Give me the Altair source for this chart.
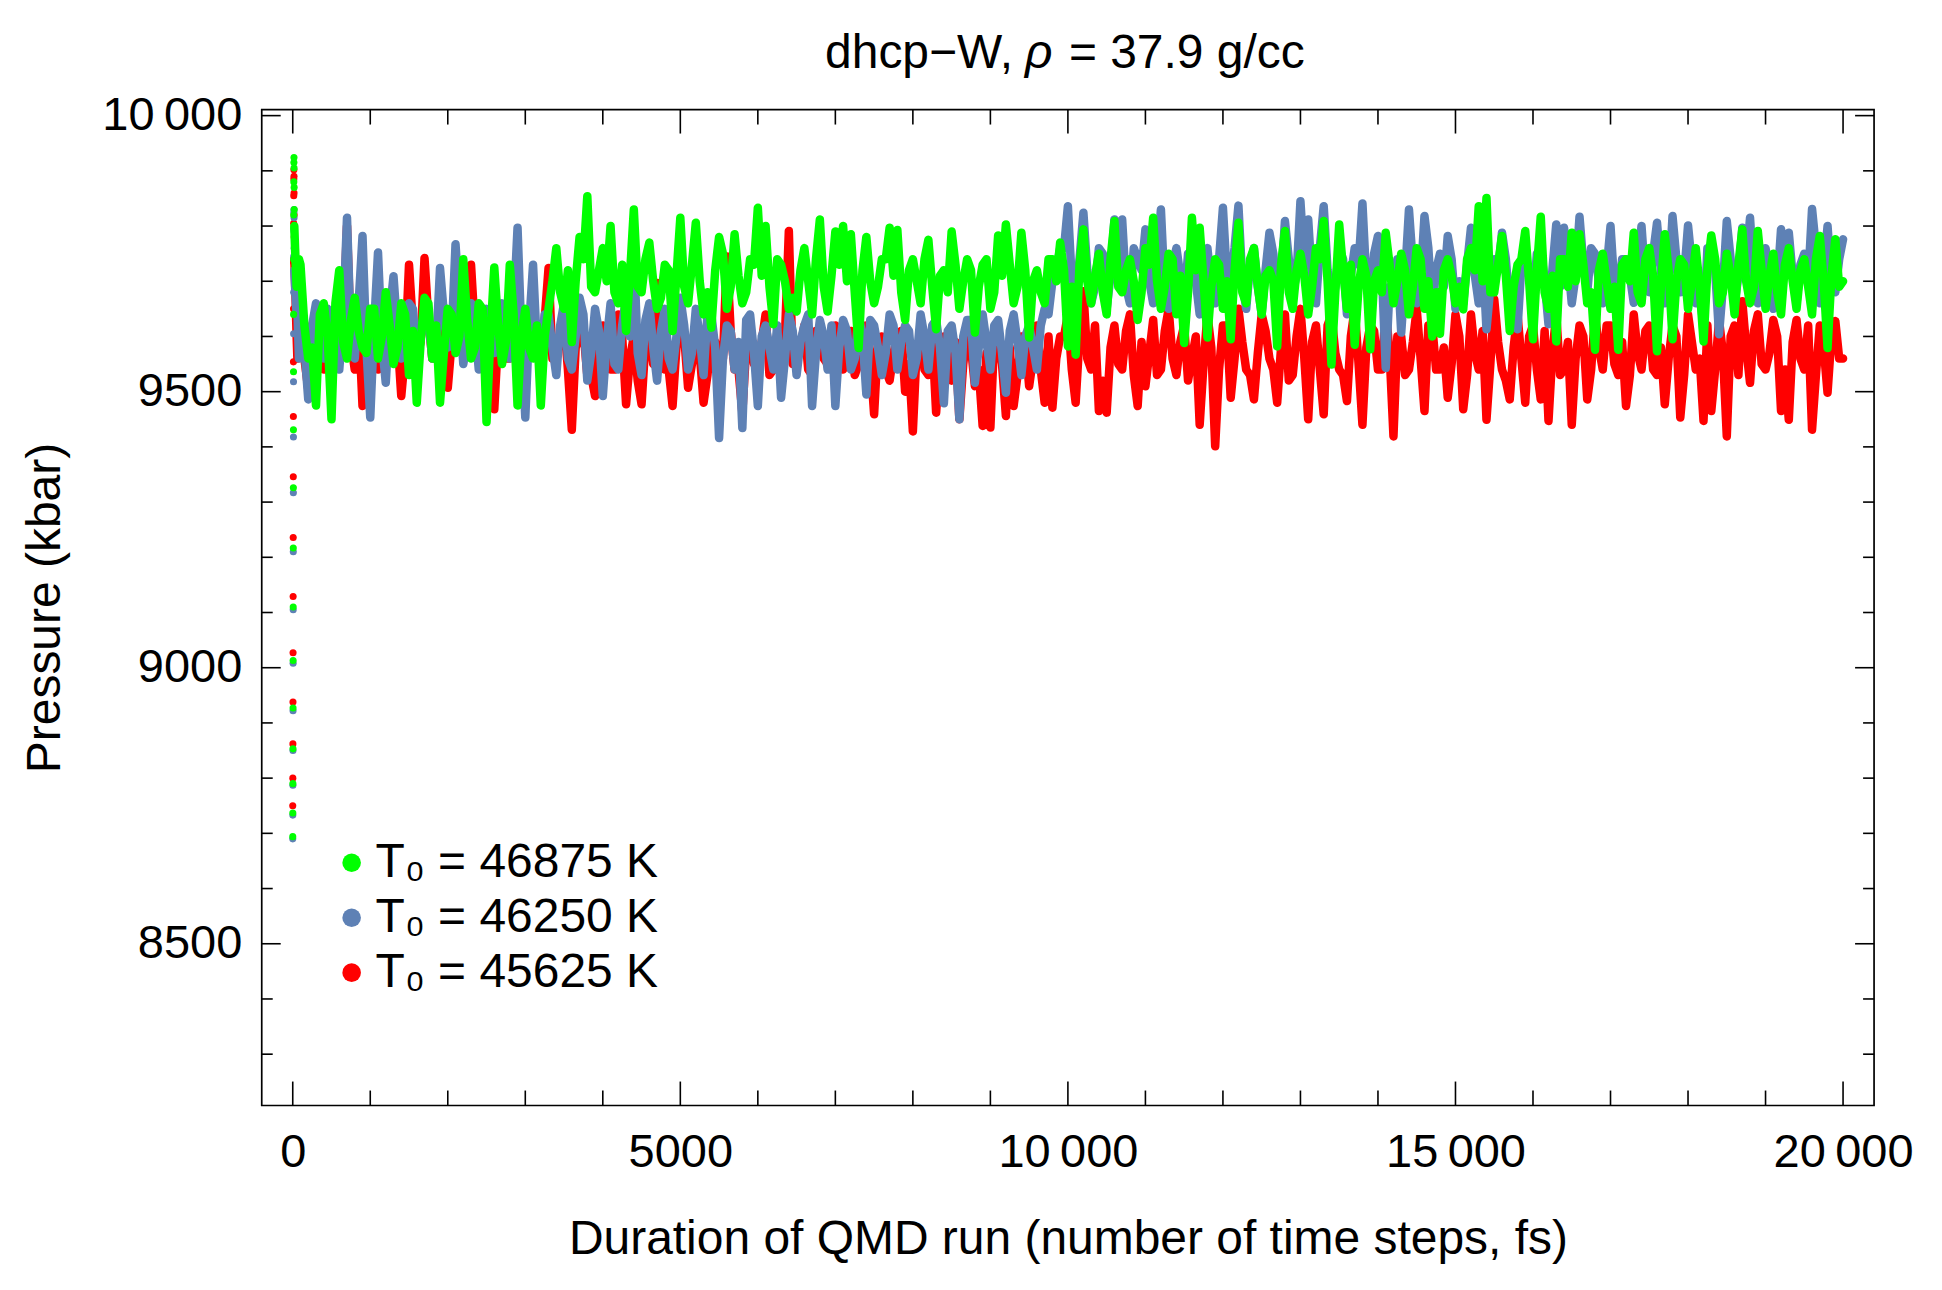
import altair as alt
import pandas as pd

FONT = "Liberation Sans"
W, H = 1614, 997
X_DOMAIN = [-400, 20400]
Y_DOMAIN = [8207, 10011]

LABELS = ["T\u2080 = 46875 K", "T\u2080 = 46250 K", "T\u2080 = 45625 K"]
COLORS = ["#00FF00", "#5E81B5", "#FF0000"]

# first time steps (fs 0..19): the runs start low and climb steeply
start_times = list(range(20))
green_start = [8694, 8737, 8790, 8853, 8927, 9013, 9110, 9217, 9326, 9431,
               9536, 9640, 9740, 9820, 9880, 9915, 9924, 9905, 9870, 9830]
blue_start = [8690, 8733, 8787, 8850, 8922, 9008, 9105, 9210, 9317, 9418,
              9518, 9605, 9680, 9745, 9795, 9825, 9830, 9815, 9790, 9760]
red_start = [8750, 8800, 8862, 8938, 9027, 9129, 9236, 9346, 9455, 9554,
             9650, 9735, 9805, 9855, 9885, 9902, 9890, 9860, 9820, 9780]

early_times = [20, 30, 60, 80]
green_early = [9800, 9760, 9700, 9740]
blue_early = [9720, 9690, 9650, 9560]
red_early = [9740, 9700, 9560, 9600]

# pressure read every 100 fs (100 .. 20000 fs)
main_times = list(range(100, 20001, 100))
green_main = [
    9730, 9560, 9475, 9660, 9450, 9720, 9560, 9670, 9580, 9650,
    9560, 9680, 9550, 9660, 9530, 9480, 9670, 9560, 9480, 9650,
    9570, 9740, 9560, 9660, 9445, 9725, 9550, 9730, 9475, 9650,
    9560, 9475, 9650, 9760, 9650, 9590, 9780, 9854, 9680, 9760,
    9800, 9660, 9610, 9830, 9680, 9770, 9650, 9730, 9610, 9815,
    9660, 9806, 9640, 9616, 9780, 9650, 9785, 9660, 9740, 9833,
    9800, 9622, 9730, 9650, 9645, 9760, 9640, 9812, 9645, 9790,
    9800, 9785, 9579, 9780, 9660, 9740, 9797, 9793, 9630, 9740,
    9660, 9775, 9613, 9720, 9790, 9650, 9740, 9607, 9730, 9650,
    9783, 9803, 9660, 9788, 9598, 9720, 9660, 9740, 9770, 9582,
    9567, 9794, 9660, 9750, 9640, 9809, 9680, 9740, 9630, 9760,
    9815, 9650, 9750, 9640, 9588, 9815, 9797, 9598, 9740, 9650,
    9595, 9806, 9660, 9760, 9640, 9720, 9582, 9791, 9650, 9750,
    9640, 9760, 9809, 9549, 9803, 9650, 9585, 9740, 9577, 9720,
    9788, 9660, 9750, 9640, 9760, 9650, 9600, 9605, 9740, 9660,
    9649, 9760, 9836, 9851, 9680, 9782, 9610, 9730, 9791, 9595,
    9817, 9650, 9591, 9740, 9788, 9785, 9660, 9576, 9750, 9650,
    9576, 9740, 9788, 9660, 9760, 9573, 9785, 9595, 9740, 9650,
    9760, 9591, 9783, 9660, 9750, 9640, 9794, 9660, 9791, 9650,
    9750, 9640, 9760, 9650, 9740, 9640, 9782, 9579, 9776, 9700,
]
blue_main = [
    9650, 9486, 9660, 9560, 9640, 9540, 9815, 9560, 9782, 9453,
    9752, 9516, 9709, 9560, 9660, 9550, 9650, 9560, 9724, 9580,
    9767, 9550, 9660, 9540, 9650, 9570, 9660, 9560, 9797, 9453,
    9730, 9560, 9640, 9530, 9660, 9540, 9670, 9520, 9650, 9492,
    9660, 9540, 9670, 9758, 9530, 9660, 9520, 9650, 9540, 9670,
    9540, 9650, 9530, 9640, 9416, 9620, 9540, 9434, 9640, 9474,
    9620, 9540, 9489, 9640, 9530, 9620, 9474, 9630, 9540, 9474,
    9630, 9540, 9640, 9495, 9620, 9530, 9640, 9540, 9620, 9530,
    9640, 9540, 9630, 9479, 9620, 9450, 9630, 9516, 9640, 9540,
    9630, 9498, 9640, 9530, 9620, 9540, 9650, 9700, 9760, 9836,
    9650, 9824, 9660, 9760, 9650, 9812, 9812, 9660, 9740, 9794,
    9660, 9830, 9650, 9760, 9660, 9750, 9640, 9760, 9660, 9833,
    9700, 9837, 9650, 9760, 9640, 9788, 9660, 9809, 9680, 9845,
    9812, 9660, 9836, 9650, 9760, 9640, 9760, 9841, 9660, 9782,
    9543, 9680, 9607, 9830, 9660, 9818, 9650, 9750, 9782, 9650,
    9660, 9797, 9660, 9613, 9740, 9788, 9650, 9613, 9740, 9660,
    9760, 9622, 9803, 9797, 9660, 9817, 9680, 9750, 9660, 9800,
    9680, 9740, 9661, 9800, 9680, 9806, 9660, 9818, 9680, 9801,
    9660, 9607, 9750, 9604, 9809, 9660, 9797, 9815, 9660, 9760,
    9650, 9794, 9788, 9660, 9750, 9831, 9660, 9800, 9680, 9776,
]
red_main = [
    9620, 9505, 9640, 9540, 9620, 9560, 9800, 9540, 9474, 9640,
    9540, 9620, 9560, 9492, 9730, 9560, 9742, 9560, 9620, 9507,
    9640, 9730, 9730, 9620, 9560, 9468, 9640, 9560, 9620, 9540,
    9620, 9560, 9724, 9560, 9630, 9431, 9600, 9530, 9492, 9620,
    9540, 9640, 9477, 9600, 9477, 9620, 9697, 9540, 9474, 9620,
    9507, 9620, 9480, 9600, 9560, 9745, 9540, 9462, 9620, 9560,
    9640, 9540, 9610, 9791, 9560, 9620, 9530, 9610, 9550, 9620,
    9540, 9610, 9550, 9620, 9459, 9600, 9520, 9600, 9500, 9428,
    9600, 9530, 9462, 9600, 9520, 9450, 9610, 9510, 9438, 9435,
    9600, 9456, 9474, 9600, 9510, 9620, 9480, 9471, 9600, 9640,
    9480, 9682, 9540, 9465, 9462, 9620, 9540, 9640, 9474, 9510,
    9630, 9540, 9650, 9530, 9620, 9560, 9440, 9640, 9401, 9620,
    9489, 9650, 9540, 9486, 9640, 9560, 9480, 9640, 9530, 9650,
    9450, 9620, 9459, 9640, 9540, 9483, 9650, 9440, 9620, 9540,
    9650, 9419, 9600, 9540, 9650, 9465, 9620, 9540, 9489, 9640,
    9468, 9640, 9540, 9449, 9667, 9540, 9486, 9640, 9480, 9620,
    9486, 9447, 9640, 9540, 9440, 9620, 9486, 9640, 9540, 9620,
    9530, 9474, 9640, 9540, 9620, 9530, 9477, 9620, 9453, 9640,
    9540, 9447, 9465, 9630, 9419, 9620, 9664, 9516, 9640, 9540,
    9630, 9465, 9449, 9630, 9540, 9431, 9620, 9498, 9628, 9560,
]

# in-between readings (50, 150, ... 19950 fs) inside the dense core of each band
mid_times = list(range(50, 20000, 100))
green_mid = [
    9690, 9620, 9580, 9640, 9600, 9660, 9590, 9630, 9610, 9570,
    9650, 9600, 9620, 9580, 9640, 9610, 9590, 9660, 9620, 9570,
    9640, 9600, 9630, 9580, 9650, 9600, 9620, 9590, 9640, 9600,
    9580, 9620, 9600, 9700, 9680, 9720, 9700, 9740, 9690, 9720,
    9700, 9680, 9730, 9710, 9690, 9740, 9700, 9670, 9720, 9710,
    9690, 9730, 9700, 9680, 9720, 9750, 9690, 9710, 9680, 9730,
    9710, 9690, 9740, 9700, 9670, 9720, 9700, 9740, 9690, 9710,
    9730, 9700, 9680, 9720, 9700, 9690, 9740, 9710, 9680, 9720,
    9700, 9740, 9690, 9710, 9680, 9730, 9700, 9720, 9690, 9740,
    9680, 9710, 9730, 9690, 9720, 9700, 9680, 9740, 9700, 9720,
    9690, 9730, 9700, 9710, 9680, 9740, 9690, 9720, 9700, 9680,
    9730, 9700, 9690, 9740, 9710, 9680, 9720, 9700, 9690, 9730,
    9700, 9720, 9680, 9740, 9690, 9710, 9700, 9730, 9680, 9720,
    9710, 9690, 9740, 9700, 9680, 9720, 9730, 9690, 9710, 9700,
    9680, 9730, 9700, 9720, 9690, 9740, 9700, 9680, 9720, 9710,
    9690, 9740, 9720, 9700, 9680, 9730, 9710, 9690, 9740, 9700,
    9720, 9680, 9710, 9740, 9690, 9700, 9730, 9680, 9720, 9700,
    9690, 9730, 9700, 9680, 9740, 9710, 9690, 9720, 9700, 9730,
    9700, 9690, 9720, 9740, 9680, 9710, 9730, 9700, 9690, 9720,
    9710, 9680, 9730, 9700, 9720, 9690, 9740, 9700, 9710, 9690,
]
blue_mid = [
    9640, 9580, 9620, 9600, 9650, 9570, 9630, 9600, 9660, 9580,
    9620, 9590, 9640, 9610, 9570, 9650, 9600, 9630, 9580, 9640,
    9600, 9660, 9590, 9620, 9570, 9640, 9610, 9590, 9650, 9600,
    9620, 9580, 9640, 9580, 9620, 9560, 9600, 9640, 9570, 9610,
    9590, 9550, 9620, 9600, 9570, 9630, 9580, 9610, 9560, 9600,
    9620, 9570, 9600, 9640, 9580, 9560, 9610, 9590, 9630, 9570,
    9600, 9580, 9620, 9560, 9610, 9590, 9640, 9570, 9600, 9620,
    9580, 9610, 9560, 9600, 9630, 9580, 9570, 9620, 9590, 9610,
    9560, 9600, 9620, 9580, 9610, 9570, 9600, 9630, 9580, 9590,
    9620, 9570, 9610, 9590, 9600, 9580, 9620, 9640, 9720, 9760,
    9700, 9740, 9720, 9690, 9750, 9710, 9730, 9690, 9760, 9720,
    9700, 9740, 9680, 9730, 9710, 9750, 9700, 9720, 9690, 9740,
    9710, 9760, 9700, 9730, 9690, 9720, 9750, 9700, 9740, 9710,
    9730, 9700, 9760, 9720, 9690, 9740, 9710, 9730, 9700, 9750,
    9720, 9690, 9740, 9710, 9730, 9700, 9760, 9720, 9690, 9740,
    9700, 9730, 9710, 9750, 9690, 9720, 9740, 9700, 9730, 9710,
    9750, 9700, 9720, 9690, 9740, 9710, 9730, 9760, 9700, 9720,
    9690, 9740, 9710, 9730, 9700, 9750, 9720, 9690, 9740, 9710,
    9730, 9700, 9760, 9720, 9690, 9740, 9710, 9730, 9700, 9750,
    9720, 9690, 9740, 9710, 9730, 9700, 9760, 9720, 9700, 9740,
]
red_mid = [
    9600, 9560, 9620, 9580, 9640, 9570, 9610, 9590, 9630, 9560,
    9610, 9580, 9640, 9600, 9570, 9620, 9590, 9630, 9560, 9610,
    9590, 9640, 9570, 9610, 9580, 9630, 9600, 9560, 9620, 9590,
    9610, 9570, 9630, 9560, 9600, 9540, 9580, 9610, 9530, 9590,
    9570, 9540, 9600, 9560, 9520, 9590, 9550, 9610, 9540, 9580,
    9600, 9550, 9570, 9530, 9590, 9560, 9610, 9540, 9580, 9550,
    9590, 9530, 9570, 9600, 9550, 9580, 9540, 9610, 9560, 9590,
    9550, 9580, 9530, 9600, 9560, 9590, 9540, 9570, 9610, 9550,
    9580, 9540, 9600, 9560, 9530, 9590, 9550, 9580, 9540, 9570,
    9600, 9550, 9580, 9530, 9590, 9560, 9540, 9600, 9560, 9600,
    9540, 9600, 9560, 9620, 9520, 9580, 9550, 9610, 9530, 9590,
    9570, 9530, 9610, 9560, 9590, 9520, 9600, 9550, 9580, 9540,
    9620, 9560, 9590, 9530, 9570, 9610, 9540, 9580, 9520, 9600,
    9560, 9590, 9540, 9620, 9570, 9530, 9600, 9550, 9580, 9610,
    9540, 9570, 9600, 9530, 9590, 9560, 9620, 9540, 9580, 9550,
    9600, 9530, 9570, 9610, 9550, 9590, 9520, 9580, 9560, 9600,
    9540, 9610, 9570, 9530, 9590, 9560, 9600, 9540, 9580, 9620,
    9550, 9590, 9530, 9570, 9610, 9540, 9580, 9560, 9600, 9530,
    9590, 9560, 9620, 9540, 9570, 9600, 9530, 9580, 9610, 9550,
    9570, 9600, 9540, 9590, 9560, 9620, 9530, 9580, 9600, 9560,
]

x_major = [0, 5000, 10000, 15000, 20000]
x_minor = [1000, 2000, 3000, 4000, 6000, 7000, 8000, 9000, 11000, 12000,
           13000, 14000, 16000, 17000, 18000, 19000]
y_major = [8500, 9000, 9500, 10000]
y_minor = [8300, 8400, 8600, 8700, 8800, 8900, 9100, 9200, 9300, 9400,
           9600, 9700, 9800, 9900]

xscale = alt.Scale(domain=X_DOMAIN, nice=False, zero=False)
yscale = alt.Scale(domain=Y_DOMAIN, nice=False, zero=False)

label_expr = ("datum.value >= 10000 ? replace(format(datum.value, ','), ',', '\u2009')"
              " : format(datum.value, 'd')")

xaxis = alt.Axis(values=x_major, title="Duration of QMD run (number of time steps, fs)",
                 labelExpr=label_expr, grid=False, ticks=False, tickSize=0, domain=False,
                 labelFont=FONT, labelFontSize=47, labelColor="black", labelPadding=24,
                 labelFlush=False, labelOverlap=False,
                 titleFont=FONT, titleFontSize=48, titleFontWeight="normal", titleColor="black",
                 titleX=W / 2, titleY=148, titleAlign="center", titleBaseline="alphabetic")
yaxis = alt.Axis(values=y_major, title="Pressure (kbar)",
                 labelExpr=label_expr, grid=False, ticks=False, tickSize=0, domain=False,
                 labelFont=FONT, labelFontSize=47, labelColor="black", labelPadding=20,
                 labelFlush=False, labelOverlap=False,
                 titleFont=FONT, titleFontSize=48, titleFontWeight="normal", titleColor="black",
                 titleX=-202, titleY=H / 2, titleAngle=270, titleAlign="center",
                 titleBaseline="alphabetic")

X = lambda: alt.X("t:Q", scale=xscale, axis=xaxis)
Y = lambda: alt.Y("p:Q", scale=yscale, axis=yaxis)

legend = alt.Legend(title=None, orient="none", legendX=66, legendY=730, padding=0,
                    labelFont=FONT, labelFontSize=48, labelColor="black", labelOffset=0,
                    symbolSize=346, symbolType="circle", symbolStrokeWidth=0,
                    symbolOpacity=1, rowPadding=7, labelLimit=600)
color_scale = alt.Scale(domain=LABELS, range=COLORS)


def series(label, color, start_vals, early_vals, main_vals, mid_vals):
    df_line = pd.DataFrame({"t": early_times + main_times + mid_times,
                            "p": early_vals + main_vals + mid_vals}).sort_values("t")
    df_dots = pd.DataFrame({"t": start_times, "p": start_vals, "s": [label] * len(start_times)})
    line = alt.Chart(df_line).mark_line(color=color, strokeWidth=8.5, strokeJoin="round",
                                        strokeCap="round").encode(x=X(), y=Y())
    dots = alt.Chart(df_dots).mark_circle(size=50, opacity=1).encode(
        x=X(), y=Y(), color=alt.Color("s:N", scale=color_scale, legend=legend))
    return [line, dots]


TICK = dict(color="black", strokeWidth=1.6)


def yticks(vals, length):
    df = pd.DataFrame({"p": vals})
    left = alt.Chart(df).mark_rule(**TICK).encode(y=Y(), x=alt.value(0), x2=alt.value(length))
    right = alt.Chart(df).mark_rule(**TICK).encode(y=Y(), x=alt.value(W - length), x2=alt.value(W))
    return [left, right]


def xticks(vals, length):
    df = pd.DataFrame({"t": vals})
    bottom = alt.Chart(df).mark_rule(**TICK).encode(x=X(), y=alt.value(H), y2=alt.value(H - length))
    top = alt.Chart(df).mark_rule(**TICK).encode(x=X(), y=alt.value(0), y2=alt.value(length))
    return [bottom, top]


def title_part(txt, x, align, style="normal"):
    return alt.Chart(pd.DataFrame({"txt": [txt]})).mark_text(
        align=align, baseline="alphabetic", font=FONT, fontSize=48, color="black",
        fontStyle=style).encode(x=alt.value(x), y=alt.value(-42), text="txt:N")


layers = []
layers += yticks(y_major, 19) + yticks(y_minor, 11)
layers += xticks(x_major, 24) + xticks(x_minor, 15)
# drawing order: red at the bottom, blue over it, green on top
layers += series(LABELS[2], COLORS[2], red_start, red_early, red_main, red_mid)
layers += series(LABELS[1], COLORS[1], blue_start, blue_early, blue_main, blue_mid)
layers += series(LABELS[0], COLORS[0], green_start, green_early, green_main, green_mid)
layers += [
    title_part("dhcp\u2212W,", 752, "right"),
    title_part("\u03c1", 764, "left", "italic"),
    title_part("= 37.9 g/cc", 808, "left"),
]

chart = alt.layer(*layers).properties(
    width=W, height=H,
    padding={"left": 254, "top": 101, "right": 60, "bottom": 170},
    autosize=alt.AutoSizeParams(type="none"),
).configure_view(stroke="black", strokeWidth=1.7)

chart.save("out.html", embed_options={"renderer": "svg", "actions": False})
